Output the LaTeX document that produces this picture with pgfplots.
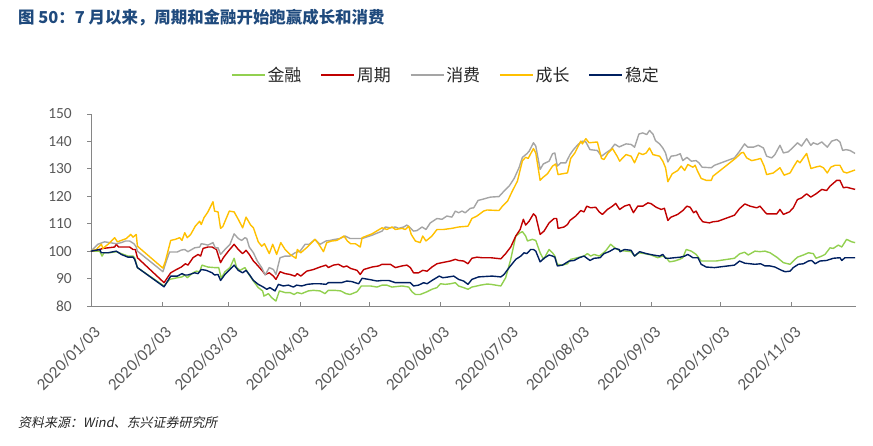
\documentclass[border=0pt]{standalone}
\usepackage{pgfplots}
\pgfplotsset{compat=1.18}
\usepackage{fontspec}
\setmainfont{Carlito}
\newfontfamily\cjk{Noto Sans CJK SC}
\newfontfamily\cjkit{Noto Sans CJK SC}[FakeSlant=0.2]
\definecolor{cgreen}{HTML}{92D050}
\definecolor{cred}{HTML}{C00000}
\definecolor{cgray}{HTML}{A5A5A5}
\definecolor{cyellow}{HTML}{FFC000}
\definecolor{cnavy}{HTML}{002060}
\definecolor{titleblue}{HTML}{1F4A7D}
\definecolor{axisgray}{HTML}{868686}
\definecolor{labelgray}{HTML}{595959}
\begin{document}
\begin{tikzpicture}[x=1bp,y=1bp]
\path[use as bounding box] (0,0) rectangle (873,446);
\node[anchor=west, text=titleblue, font=\cjk\bfseries\fontsize{16.5}{19}\selectfont, inner sep=0] at (18,428) {图 50：7 月以来，周期和金融开始跑赢成长和消费};
\node[anchor=west, font=\cjkit\fontsize{13}{15}\selectfont, inner sep=0, text=black!85] at (18,23) {资料来源：Wind、东兴证券研究所};
\begin{axis}[
  at={(91bp,140bp)}, anchor=south west,
  width=765bp, height=192bp, scale only axis,
  xmin=0, xmax=333, ymin=80, ymax=150,
  axis x line*=bottom, axis y line*=left,
  axis line style={draw=axisgray, line width=0.9bp, -},
  xtick={0,31,60,91,121,152,182,213,244,274,305},
  xticklabels={2020/01/03,2020/02/03,2020/03/03,2020/04/03,2020/05/03,2020/06/03,2020/07/03,2020/08/03,2020/09/03,2020/10/03,2020/11/03},
  ytick={80,90,100,110,120,130,140,150},
  tick style={draw=axisgray, line width=0.9bp},
  major tick length=4bp,
  xtick align=inside, ytick align=outside,
  tick label style={font=\fontsize{15.5}{18}\selectfont, text=labelgray, inner sep=0pt},
  xticklabel style={font=\fontsize{17}{19}\selectfont, rotate=45, anchor=east, xshift=-12bp, yshift=-21bp},
  yticklabel style={anchor=east, xshift=-15bp},
  /pgf/number format/assume math mode=true,
  legend columns=5,
  legend style={at={(0.464,1.203)}, anchor=center, draw=none, fill=none,
    font=\cjk\fontsize{17}{20}\selectfont, text=black!85,
    nodes={inner sep=2bp},
    /tikz/every even column/.append style={column sep=17bp}},
  legend image code/.code={\draw[#1, line width=1.5bp] (0bp,0bp) -- (33bp,0bp);},
  every axis plot/.append style={line width=1.4bp, line join=round},
  clip=false,
]
% 金融
\addplot[cgreen] coordinates {
(0,100)(3.8,100)(4.8,98.2)(5.7,99.4)(8.1,99.4)(11.0,99.8)(13.2,99.1)(16.1,98.2)(18.3,98.2)(19.0,97.6)(20.2,94.0)
(31.8,87.3)(34.2,89.7)(37.6,90.3)(39.6,90.6)(40.8,91.3)(41.9,90.3)(44.4,92.1)(45.9,92.7)(47.3,92.5)(48.3,94.9)
(50.9,94.2)(53.8,94.0)(55.6,94.0)(56.7,90.1)(58.3,92.5)(60.5,94.0)(62.3,97.4)(63.4,94.0)(64.9,93.0)(67.0,94.0)
(68.5,91.8)(70.7,89.1)(72.8,86.7)(74.7,85.5)(75.3,83.6)(77.2,84.5)(78.7,83.0)(80.5,81.8)(82.0,85.5)(84.5,84.9)
(86.6,84.9)(88.4,84.2)(89.8,84.9)(91.7,84.5)(94.6,85.5)(96.8,85.7)(99.7,85.5)(101.9,84.5)(103.3,85.7)(106.2,85.7)
(108.7,85.5)(111.0,84.5)(112.8,84.2)(115.8,85.2)(117.7,87.3)(121.6,87.3)(124.5,86.9)(126.7,87.6)(128.8,87.6)
(131.0,86.9)(135.4,87.3)(138.3,86.9)(139.7,85.2)(141.2,84.2)(143.3,84.2)(146.3,85.2)(148.4,86.1)(150.6,86.7)
(152.1,88.1)(154.2,87.9)(156.4,88.1)(158.6,88.5)(160.0,87.3)(162.2,86.7)(164.1,86.1)(165.8,86.9)(168.0,87.3)
(169.5,87.6)(172.4,88.0)(174.0,87.9)(178.4,87.3)(180.5,90.3)(182.7,97.0)(184.9,105.5)(186.8,106.7)(187.8,107.1)
(189.2,105.5)(190.0,103.7)(192.1,104.3)(193.6,103.9)(195.5,99.4)(197.0,97.0)(199.4,100.6)(200.9,99.4)(201.9,98.2)
(203.0,95.2)(205.2,94.9)(207.4,95.4)(208.8,97.0)(211.7,97.6)(214.6,98.2)(216.1,99.1)(217.5,98.2)(219.0,98.8)
(221.2,98.2)(223.1,99.4)(224.5,100.6)(226.2,102.5)(228.0,101.2)(229.9,100.3)(232.9,100.0)(235.1,99.8)(236.6,98.2)
(238.5,99.4)(240.9,99.1)(243.8,98.6)(246.7,97.6)(248.9,98.2)(250.4,97.6)(251.8,96.1)(254.0,96.4)(256.2,97.0)
(257.6,97.6)(259.1,100.6)(261.3,100.0)(263.4,98.8)(265.6,96.4)(268.5,96.4)(272.1,96.4)(280.1,97.4)(282.3,99.0)
(284.5,99.6)(286.1,98.6)(289.0,100.0)(291.2,99.8)(293.4,100.0)(295.6,99.4)(298.5,97.8)(301.4,95.8)(304.3,95.2)
(305.7,96.4)(307.5,97.8)(310.1,98.6)(312.3,99.4)(314.4,99.1)(315.6,97.4)(318.1,98.2)(319.5,98.8)(321.7,101.2)
(323.1,101.0)(325.3,102.2)(326.8,101.5)(328.9,104.3)(331.1,103.4)(332.6,103.1)
};
\addlegendentry{金融}
% 周期
\addplot[cred] coordinates {
(0,100)(3.8,100.6)(5.2,101.0)(7.4,101.2)(10.3,101.5)(11.0,102.5)(12.0,101.5)(14.6,101.5)(16.8,101.5)(18.3,100.6)
(19.3,100.6)(20.2,97.6)(31.8,88.5)(34.7,92.1)(37.2,93.3)(39.3,94.2)(41.1,95.4)(42.2,94.9)(44.4,97.6)(46.6,98.8)
(47.7,98.2)(48.8,101.0)(50.9,101.5)(52.7,101.5)(54.6,100.6)(56.4,95.8)(57.6,97.6)(59.8,100.0)(62.3,102.5)
(64.1,100.6)(66.0,99.1)(67.5,100.3)(68.9,98.8)(70.7,96.4)(72.4,94.9)(74.7,92.7)(75.8,91.5)(77.6,92.1)(79.4,90.9)
(80.5,89.7)(82.3,92.5)(84.5,91.8)(86.6,91.5)(88.8,90.9)(89.8,91.8)(91.3,90.9)(93.9,92.7)(96.8,93.3)(99.7,94.2)
(102.3,94.9)(103.3,94.0)(105.5,94.9)(107.7,95.2)(109.9,94.2)(111.3,94.6)(113.0,93.7)(115.8,93.0)(117.2,91.5)
(118.7,93.3)(122.3,94.2)(125.2,94.6)(126.7,95.2)(130.3,95.2)(132.5,94.0)(135.4,94.6)(137.5,94.9)(139.0,94.0)
(140.4,92.1)(142.6,92.1)(144.4,93.0)(146.3,92.7)(148.4,94.2)(150.6,95.4)(152.8,95.8)(156.4,96.4)(158.6,97.0)
(160.0,96.6)(162.2,96.4)(164.1,95.4)(165.8,97.4)(168.0,97.8)(170.2,97.6)(174.0,97.6)(178.4,97.2)(180.5,99.1)
(182.7,101.5)(184.9,105.5)(186.8,107.9)(188.2,111.6)(189.2,109.5)(190.7,110.9)(192.6,113.6)(193.6,112.8)
(195.5,106.1)(197.2,107.3)(199.4,110.3)(201.6,111.9)(202.7,111.9)(203.3,108.3)(205.9,108.8)(207.4,109.7)
(208.5,111.2)(211.0,112.8)(213.2,114.8)(214.6,114.3)(215.8,116.4)(217.5,115.8)(219.7,116.0)(221.2,114.3)
(222.6,113.4)(224.8,115.2)(227.0,116.4)(228.4,117.4)(230.1,115.2)(232.2,116.4)(234.4,117.0)(236.1,114.0)
(238.0,116.4)(240.2,116.4)(242.4,117.6)(243.8,117.3)(246.0,116.0)(248.2,115.2)(249.6,115.6)(251.1,111.2)
(252.5,112.4)(255.4,113.4)(257.6,114.8)(259.4,116.4)(260.8,116.0)(262.3,114.0)(263.4,114.6)(264.9,112.2)
(266.3,110.7)(269.2,110.3)(270.7,110.7)(272.9,110.9)(280.1,113.1)(282.3,115.5)(284.6,117.2)(286.9,116.4)
(289.8,115.8)(291.2,116.4)(293.0,114.6)(294.1,113.6)(298.5,113.6)(299.9,115.2)(301.4,113.4)(304.0,114.3)
(305.7,115.8)(307.5,118.8)(309.3,119.4)(311.5,120.9)(313.3,119.7)(315.6,120.9)(318.1,122.5)(320.2,122.1)
(321.7,123.7)(324.6,125.8)(326.0,125.8)(327.5,123.1)(328.9,123.3)(332.6,122.5)
};
\addlegendentry{周期}
% 消费
\addplot[cgray] coordinates {
(0,100)(3.0,102.5)(5.9,103.4)(8.1,103.1)(11.0,102.7)(13.2,103.1)(15.0,103.7)(16.8,103.7)(18.7,102.7)(19.7,101.5)
(20.2,100.0)(31.3,92.5)(32.8,96.4)(34.2,99.7)(37.6,99.7)(39.3,100.4)(40.8,100.6)(42.2,99.8)(45.1,101.2)(47.3,101.5)
(48.0,102.7)(49.5,102.5)(50.9,102.2)(53.1,103.1)(54.1,101.2)(55.3,101.2)(56.4,98.8)(58.3,100.6)(60.5,102.5)
(62.3,106.3)(64.1,104.6)(65.6,103.9)(67.0,104.9)(67.8,104.6)(68.9,101.5)(70.7,99.4)(72.4,96.4)(74.3,94.0)
(75.8,91.3)(77.6,94.0)(79.4,93.3)(80.5,91.5)(82.3,97.6)(84.5,98.2)(86.6,98.2)(88.8,99.4)(91.0,100.0)(93.2,102.5)
(95.0,102.5)(97.5,104.3)(99.7,102.5)(102.3,103.7)(104.0,103.9)(106.2,104.3)(108.4,104.6)(110.6,105.5)(112.8,104.6)
(115.8,104.6)(118.0,104.6)(122.3,105.8)(126.7,107.3)(128.1,108.8)(130.3,108.5)(132.5,108.8)(133.9,108.3)
(136.1,108.8)(137.5,109.5)(139.0,108.5)(140.4,107.3)(141.9,107.5)(144.1,108.8)(145.8,107.9)(147.7,110.3)
(150.6,111.9)(152.8,111.6)(154.9,112.8)(157.1,112.4)(158.6,114.6)(160.0,114.0)(161.5,114.6)(162.9,114.0)
(165.1,115.6)(166.6,115.8)(168.5,118.5)(170.9,119.0)(172.5,119.4)(174.0,119.7)(177.6,119.9)(179.8,121.9)
(182.0,123.7)(184.2,126.5)(186.3,130.4)(187.8,134.2)(189.7,135.5)(190.7,136.4)(192.6,139.5)(193.6,138.3)
(195.5,129.8)(196.9,131.8)(199.4,132.8)(200.9,135.5)(201.9,135.8)(203.0,131.0)(204.5,132.2)(206.7,132.2)
(208.5,135.2)(210.0,137.0)(212.0,138.9)(213.9,140.1)(215.4,139.8)(217.2,137.0)(220.4,136.7)(222.2,134.6)
(224.1,135.8)(226.2,137.0)(228.0,139.0)(229.9,138.0)(232.9,139.1)(235.1,138.9)(236.6,137.9)(238.5,142.7)
(240.2,143.1)(241.9,142.5)(243.1,144.0)(244.6,142.7)(245.7,140.3)(247.5,139.1)(248.9,137.6)(250.1,135.8)
(251.1,132.5)(252.5,134.6)(254.7,134.9)(256.5,135.5)(257.6,133.0)(259.4,134.2)(261.3,132.8)(263.4,133.0)
(264.6,132.2)(266.0,130.6)(270.0,130.4)(271.4,131.3)(280.1,134.0)(282.3,136.4)(284.5,139.1)(285.9,137.9)
(288.3,137.9)(290.5,138.6)(292.7,137.6)(294.1,134.6)(296.3,134.0)(297.7,135.2)(299.9,138.6)(301.4,135.8)
(303.5,136.2)(305.7,137.9)(307.5,139.5)(309.3,138.3)(311.5,141.0)(313.3,138.6)(314.4,139.5)(316.2,138.9)
(318.1,139.8)(320.5,137.9)(322.4,140.1)(324.6,140.7)(326.0,139.8)(327.2,136.7)(328.6,137.0)(330.4,136.7)(332.6,135.6)
};
\addlegendentry{消费}
% 成长
\addplot[cyellow] coordinates {
(0,100)(2.3,100.6)(4.5,102.5)(5.2,101.0)(7.4,102.5)(10.3,104.9)(11.5,103.4)(13.2,103.9)(15.4,104.6)(17.3,106.1)
(18.3,105.1)(19.7,106.1)(20.2,101.8)(31.3,93.8)(32.4,96.4)(34.7,103.9)(36.7,104.3)(38.6,104.9)(39.6,103.9)
(40.8,106.7)(41.9,104.9)(43.4,106.1)(45.4,109.1)(47.3,110.9)(48.0,109.7)(49.2,112.2)(50.9,114.3)(53.1,118.0)
(53.8,114.6)(55.3,114.3)(56.4,108.3)(57.4,109.0)(60.2,114.6)(62.3,114.3)(64.1,111.6)(66.0,108.5)(67.5,112.4)
(69.5,109.5)(70.7,108.5)(72.8,103.4)(74.3,101.8)(75.5,102.7)(77.6,99.1)(79.1,102.5)(80.8,98.8)(82.6,103.1)
(84.5,100.6)(86.6,98.8)(89.2,97.4)(89.8,100.6)(91.3,99.4)(94.2,101.5)(97.5,104.3)(99.0,102.7)(101.2,99.8)
(102.6,103.1)(104.8,103.7)(107.0,103.9)(110.1,105.5)(111.6,103.7)(113.0,102.7)(115.1,102.7)(117.2,101.5)
(118.0,104.9)(122.3,106.3)(126.7,108.5)(128.8,107.9)(131.0,108.8)(132.5,107.9)(135.4,108.3)(136.8,107.9)
(138.3,109.1)(139.4,106.1)(141.2,103.7)(143.3,103.1)(144.4,105.5)(145.8,103.7)(148.4,105.5)(150.6,107.9)
(153.5,107.9)(157.1,108.3)(160.0,108.8)(164.1,109.1)(165.8,111.9)(168.0,112.8)(170.9,114.6)(172.4,115.0)
(177.6,114.8)(179.1,116.4)(181.3,118.2)(183.4,121.9)(185.6,125.5)(187.8,133.0)(189.2,134.2)(190.3,133.8)
(192.6,137.4)(193.6,135.8)(195.5,125.8)(196.9,127.0)(198.7,128.2)(200.9,131.0)(202.3,131.8)(203.3,127.9)
(205.2,128.2)(207.4,128.5)(208.8,133.8)(210.6,135.8)(213.2,140.1)(213.9,139.1)(215.4,141.0)(216.8,139.5)
(220.4,139.8)(222.2,133.8)(223.3,133.4)(225.1,135.8)(227.0,137.4)(229.1,134.5)(230.1,132.8)(232.9,135.2)
(235.1,134.6)(236.6,132.2)(238.5,135.8)(240.2,135.2)(241.7,135.8)(243.1,137.6)(244.6,135.2)(247.5,134.6)
(248.9,132.8)(250.1,130.4)(251.1,125.3)(253.0,128.2)(255.4,129.4)(256.9,131.0)(258.4,129.4)(259.8,131.6)
(262.0,130.6)(263.0,131.3)(263.9,129.4)(265.6,126.5)(267.8,125.8)(270.0,125.8)(270.7,127.3)(280.8,134.0)
(283.0,135.8)(284.0,136.0)(285.4,134.0)(287.6,133.0)(289.8,133.4)(291.5,133.8)(293.0,131.0)(294.1,127.9)
(297.0,128.5)(299.9,130.4)(301.7,127.7)(304.3,128.5)(306.0,131.0)(307.5,133.0)(308.6,132.2)(310.1,134.0)
(311.5,135.6)(313.4,130.1)(315.2,130.6)(317.3,131.0)(318.8,130.4)(320.5,128.5)(322.0,130.6)(323.9,131.3)
(326.0,131.3)(327.5,128.9)(329.0,128.5)(332.6,129.6)
};
\addlegendentry{成长}
% 稳定
\addplot[cnavy] coordinates {
(0,100)(3.8,100.6)(4.5,99.4)(7.4,99.4)(11.0,100)(13.2,98.8)(16.1,97.8)(18.3,97.8)(19.0,97.0)(20.2,94.0)
(31.8,87.0)(34.7,90.9)(37.6,90.9)(39.6,91.8)(40.8,91.3)(42.2,91.3)(45.1,92.1)(46.6,91.8)(48.0,93.3)(50.2,93.0)
(52.7,92.1)(53.8,91.3)(55.3,91.5)(56.4,89.3)(58.3,91.5)(60.5,93.3)(62.3,94.9)(64.1,93.0)(66.0,92.1)(67.5,93.0)
(68.9,91.5)(70.7,89.3)(72.8,87.9)(75.0,86.9)(76.5,86.1)(77.9,86.7)(80.1,85.5)(81.6,87.9)(83.7,87.3)(85.9,87.6)
(88.1,86.9)(89.5,87.6)(91.7,87.3)(94.2,87.9)(96.8,88.1)(99.7,88.1)(102.3,87.9)(103.3,88.5)(106.2,88.5)(109.1,88.5)
(111.3,89.1)(113.5,88.9)(116.5,88.1)(118.0,90.1)(120.9,89.7)(124.5,89.1)(126.7,89.3)(129.6,89.3)(132.5,88.5)
(135.4,88.5)(139.0,88.5)(140.4,87.3)(142.6,87.6)(144.8,88.5)(146.3,88.1)(148.4,89.3)(151.6,90.9)(153.1,90.3)
(155.7,90.6)(157.9,90.9)(160.0,89.7)(162.2,89.1)(164.1,87.9)(165.8,89.7)(168.7,90.6)(172.4,90.8)(174.7,90.9)
(178.4,90.6)(179.8,91.5)(182.0,94.0)(184.9,97.0)(187.1,98.2)(188.5,99.4)(189.7,99.1)(191.4,100.6)(192.6,100.6)
(193.6,100.0)(195.5,96.1)(197.2,97.4)(199.4,98.6)(200.9,98.2)(201.9,97.8)(203.0,94.6)(205.2,94.9)(208.1,96.4)
(210.3,96.6)(212.5,97.6)(214.6,98.2)(217.2,96.6)(219.0,97.4)(221.6,97.6)(223.3,99.1)(225.5,99.8)(228.0,101.0)
(229.9,100.6)(230.3,99.8)(232.2,100.6)(235.1,100.3)(236.6,98.2)(238.8,99.8)(241.7,99.1)(244.6,98.6)(247.5,98.2)
(248.9,98.8)(250.1,97.4)(251.8,97.4)(254.0,97.6)(256.5,97.8)(258.4,98.2)(259.8,98.8)(262.0,97.6)(264.2,97.6)
(265.6,95.2)(267.8,94.2)(271.4,94.0)(280.1,94.9)(282.3,96.4)(284.6,95.6)(286.9,95.4)(289.0,95.2)(291.5,95.4)
(293.4,94.6)(295.6,94.6)(297.7,94.2)(300.6,93.0)(302.1,92.5)(304.3,92.7)(305.7,94.0)(307.9,95.2)(310.1,95.4)
(312.3,96.4)(313.7,96.6)(315.2,95.4)(317.3,96.4)(320.2,96.6)(323.1,97.4)(326.0,97.6)(326.8,96.6)(328.2,97.6)(332.6,97.6)
};
\addlegendentry{稳定}
\end{axis}
\end{tikzpicture}
\end{document}
